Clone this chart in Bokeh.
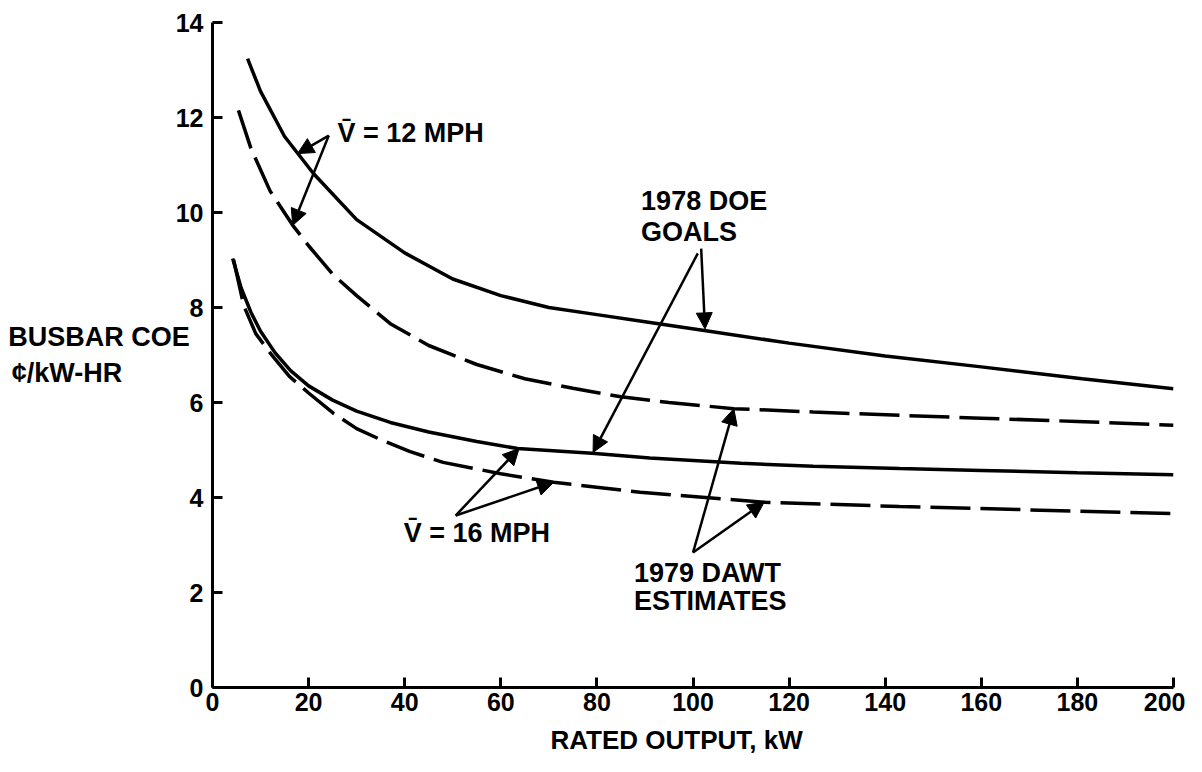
from bokeh.plotting import figure
from bokeh.models import Label, Arrow, NormalHead, FixedTicker, Range1d, Title
from bokeh.embed import file_html
from bokeh.resources import INLINE

# ---- data ----
# 1978 DOE goals, mean wind 12 mph (solid)
doe12_x = [7.3, 10, 15, 21, 30, 40, 50, 60, 70, 80, 90, 102, 120, 140, 160, 181, 200]
doe12_y = [13.24, 12.55, 11.6, 10.82, 9.85, 9.15, 8.6, 8.25, 8.0, 7.85, 7.7, 7.52, 7.25, 6.98, 6.75, 6.5, 6.29]
# 1979 DAWT estimates, 12 mph (dashed)
dawt12_x = [5.4, 8, 12, 16.7, 20, 25, 30, 37, 45, 55, 65, 75, 85, 95, 108.5, 125, 143, 160, 180, 200]
dawt12_y = [12.15, 11.35, 10.45, 9.73, 9.3, 8.7, 8.25, 7.66, 7.2, 6.8, 6.5, 6.3, 6.12, 6.0, 5.87, 5.8, 5.73, 5.67, 5.6, 5.52]
# 1978 DOE goals, 16 mph (solid)
doe16_x = [4.2, 6, 8, 10, 13, 16.25, 20, 25, 30, 37, 45, 55, 63.5, 79, 91, 110, 125, 143, 160, 180, 200]
doe16_y = [9.03, 8.4, 7.9, 7.5, 7.05, 6.67, 6.35, 6.05, 5.82, 5.58, 5.38, 5.18, 5.03, 4.93, 4.83, 4.72, 4.66, 4.61, 4.57, 4.52, 4.48]
# 1979 DAWT estimates, 16 mph (dashed)
dawt16_x = [4.4, 6.5, 9, 12.1, 16, 20, 25.2, 30, 35.4, 41, 48, 60, 71, 89, 115, 143, 170, 200]
dawt16_y = [9.0, 8.04, 7.45, 7.03, 6.55, 6.2, 5.77, 5.45, 5.2, 4.97, 4.74, 4.5, 4.32, 4.11, 3.9, 3.81, 3.74, 3.66]

x_ticks = [0, 20, 40, 60, 80, 100, 120, 140, 160, 180, 200]
y_ticks = [0, 2, 4, 6, 8, 10, 12, 14]

x_title = "RATED OUTPUT, kW"
y_title = "BUSBAR COE\n\u00a2/kW-HR" + "\u00a0" * 9

# annotation texts and anchors
ann_text = ["V\u0304 = 12 MPH", "1978 DOE", "GOALS", "V\u0304 = 16 MPH", "1979 DAWT", "ESTIMATES"]
ann_x = [26.0, 89.2, 89.2, 39.8, 87.7, 87.7]
ann_y = [11.68, 10.25, 9.6, 3.26, 2.42, 1.83]

# arrows: start -> end
arr_x0 = [24.2, 24.2, 101.7, 101.0, 50.6, 50.6, 100.0, 100.0]
arr_y0 = [11.62, 11.62, 9.24, 9.14, 3.62, 3.62, 2.84, 2.84]
arr_x1 = [17.7, 16.7, 102.5, 79.2, 63.8, 71.0, 108.5, 114.8]
arr_y1 = [11.24, 9.73, 7.55, 4.95, 5.03, 4.32, 5.87, 3.9]

FONT = "Liberation Sans"

p = figure(width=1185, height=770, output_backend="svg", toolbar_location=None,
           x_range=Range1d(0, 200), y_range=Range1d(0, 14),
           min_border_left=212, min_border_top=22, min_border_right=12,
           min_border_bottom=83)
p.outline_line_color = None
p.grid.visible = False
p.background_fill_color = "white"
p.border_fill_color = "white"

LW = 3.5
p.line(doe12_x, doe12_y, line_color="black", line_width=LW)
p.line(dawt12_x, dawt12_y, line_color="black", line_width=LW, line_dash="40 10")
p.line(doe16_x, doe16_y, line_color="black", line_width=LW)
p.line(dawt16_x, dawt16_y, line_color="black", line_width=LW, line_dash="40 10")

for ax in (p.xaxis[0], p.yaxis[0]):
    ax.axis_line_width = 3
    ax.axis_line_color = "black"
    ax.major_tick_line_width = 3
    ax.major_tick_in = 10
    ax.major_tick_out = 0
    ax.minor_tick_line_color = None
    ax.major_label_text_font = FONT
    ax.major_label_text_font_style = "bold"
    ax.major_label_text_font_size = "25px"
    ax.major_label_text_color = "black"

p.xaxis.ticker = FixedTicker(ticks=x_ticks)
p.yaxis.ticker = FixedTicker(ticks=y_ticks)
p.xaxis.major_label_standoff = 5
p.yaxis.major_label_standoff = 9

# y-axis title, horizontal, to the left of the tick labels
p.yaxis.axis_label = y_title
p.yaxis.axis_label_orientation = "horizontal"
p.yaxis.axis_label_text_font = FONT
p.yaxis.axis_label_text_font_style = "bold"
p.yaxis.axis_label_text_font_size = "27px"
p.yaxis.axis_label_text_color = "black"
p.yaxis.axis_label_standoff = -17
p.yaxis.axis_label_text_align = "left"

# x-axis title
p.add_layout(Title(text=x_title, align="left", offset=338, standoff=18,
                   text_font=FONT, text_font_style="bold", text_font_size="26px",
                   text_color="black"), "below")

def lab(x, y, t, align="left"):
    p.add_layout(Label(x=x, y=y, text=t, text_font=FONT, text_font_style="bold",
                       text_font_size="27px", text_color="black",
                       text_align=align, text_baseline="middle"))

for t, x, y in zip(ann_text, ann_x, ann_y):
    lab(x, y, t)

for x0, y0, x1, y1 in zip(arr_x0, arr_y0, arr_x1, arr_y1):
    p.add_layout(Arrow(x_start=x0, y_start=y0, x_end=x1, y_end=y1,
                       line_color="black", line_width=2.5,
                       end=NormalHead(size=16, fill_color="black", line_color="black")))

open("out.html", "w").write(file_html(p, INLINE))
